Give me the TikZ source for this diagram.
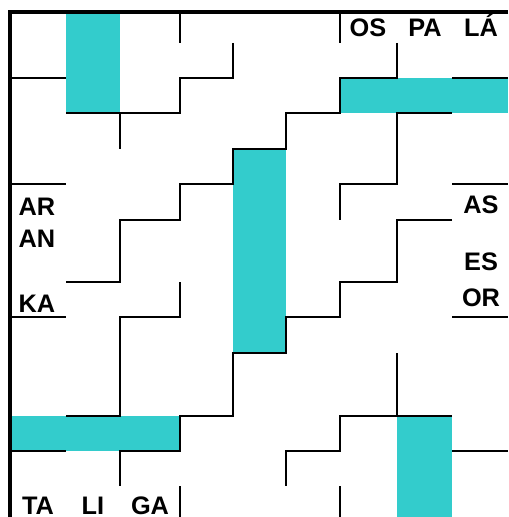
\documentclass[tikz,border=0pt]{standalone}
\usepackage{fontspec}
\setmainfont{Liberation Sans}
\usepackage{xcolor}
\definecolor{cellcyan}{HTML}{33CCCC}
\tikzset{
  wall/.style={line width=2pt},
  frame/.style={line width=2.6pt},
  shaded/.style={fill=cellcyan},
  syl/.style={font=\bfseries\fontsize{19}{22}\selectfont, inner sep=0pt, anchor=base}
}

\begin{document}
\begin{tikzpicture}[x=0.75pt,y=-0.75pt]
\useasboundingbox (0,0) rectangle (508,517);
% shaded cells
\fill[shaded] (66,12) rectangle (120,113);
\fill[shaded] (340,78) rectangle (508,113);
\fill[shaded] (233,149) rectangle (286,353);
\fill[shaded] (10,416) rectangle (180,451);
\fill[shaded] (397,416) rectangle (452,517);
% walls
\draw[wall] (180,12) -- (180,43);
\draw[wall] (340,12) -- (340,43);
\draw[wall] (10,78) -- (66,78);
\draw[wall] (233,43) -- (233,78) -- (180,78) -- (180,113) -- (66,113);
\draw[wall] (120,113) -- (120,149);
\draw[wall] (452,78) -- (508,78);
\draw[wall] (397,43) -- (397,78) -- (340,78) -- (340,113) -- (286,113) -- (286,149)
  -- (233,149) -- (233,184) -- (180,184) -- (180,220) -- (120,220) -- (120,282) -- (66,282);
\draw[wall] (452,113) -- (397,113) -- (397,184) -- (340,184) -- (340,220);
\draw[wall] (10,184) -- (66,184);
\draw[wall] (452,184) -- (508,184);
\draw[wall] (452,220) -- (397,220) -- (397,282) -- (340,282) -- (340,317) -- (286,317)
  -- (286,353) -- (233,353) -- (233,416) -- (180,416) -- (180,451) -- (120,451) -- (120,486);
\draw[wall] (180,282) -- (180,317) -- (120,317) -- (120,416) -- (66,416);
\draw[wall] (10,317) -- (66,317);
\draw[wall] (452,317) -- (508,317);
\draw[wall] (397,353) -- (397,416);
\draw[wall] (452,416) -- (340,416) -- (340,451) -- (286,451) -- (286,486);
\draw[wall] (10,451) -- (66,451);
\draw[wall] (452,451) -- (508,451);
\draw[wall] (180,486) -- (180,517);
\draw[wall] (340,486) -- (340,517);
% outer frame
\draw[frame] (508,12) -- (10,12) -- (10,517);
% syllables
\node[syl] (os) at (368,37) {OS};
\node[syl] (pa) at (425,37) {PA};
\node[syl] (la) at (481,37) {LÁ};
\node[syl] (ar) at (37,215) {AR};
\node[syl] (an) at (37,247) {AN};
\node[syl] (ka) at (37,312) {KA};
\node[syl] (as) at (481,213) {AS};
\node[syl] (es) at (481,270) {ES};
\node[syl] (or) at (481,306) {OR};
\node[syl] (ta) at (38,514) {TA};
\node[syl] (li) at (93,514) {LI};
\node[syl] (ga) at (150,514) {GA};
\end{tikzpicture}
\end{document}
